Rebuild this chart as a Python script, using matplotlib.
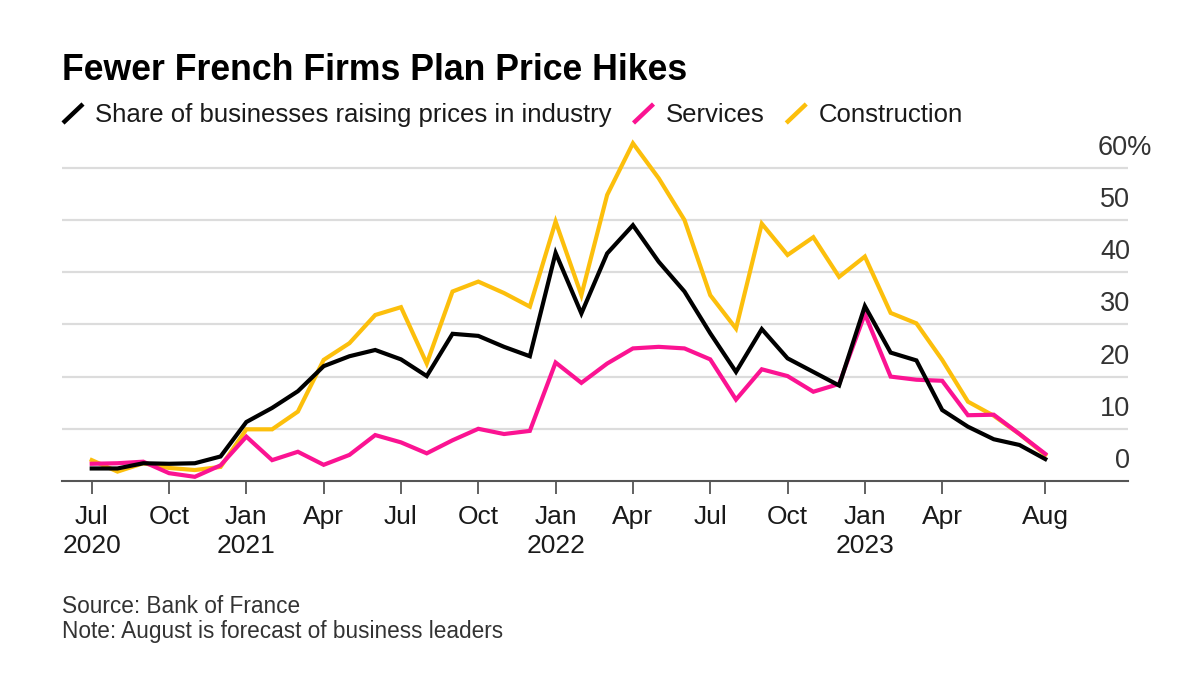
import matplotlib
matplotlib.use("Agg")
import matplotlib.pyplot as plt
from matplotlib import transforms
from matplotlib.lines import Line2D

plt.rcParams['font.family'] = ['Liberation Sans', 'DejaVu Sans']

# ---- data (monthly, Jul 2020 .. Aug 2023) ----
industry = [2.4, 2.4, 3.4, 3.3, 3.4, 4.7, 11.3, 14.0, 17.2, 22.0, 23.9, 25.1, 23.3, 20.1,
            28.2, 27.8, 25.7, 23.9, 43.7, 32.1, 43.6, 49.0, 42.0, 36.3, 28.3, 20.9, 29.1,
            23.5, 20.9, 18.3, 33.5, 24.6, 23.1, 13.6, 10.4, 8.0, 6.9, 4.2]
services = [3.3, 3.4, 3.7, 1.5, 0.8, 3.0, 8.5, 4.0, 5.6, 3.1, 5.0, 8.8, 7.4, 5.3,
            7.8, 10.0, 9.0, 9.6, 22.7, 18.8, 22.5, 25.4, 25.7, 25.4, 23.3, 15.6, 21.4,
            20.1, 17.1, 18.6, 32.0, 20.0, 19.4, 19.2, 12.6, 12.7, 9.0, 5.2]
construction = [4.0, 1.8, 3.4, 2.5, 2.1, 2.7, 9.9, 9.9, 13.3, 23.2, 26.4, 31.8, 33.3, 22.5,
                36.3, 38.2, 36.0, 33.4, 49.7, 35.6, 54.8, 64.7, 58.0, 50.0, 35.6, 29.2, 49.3,
                43.3, 46.7, 39.1, 43.0, 32.2, 30.2, 23.2, 15.2, 12.5, 9.0, 5.0]
months = list(range(len(industry)))

tick_pos = [0, 3, 6, 9, 12, 15, 18, 21, 24, 27, 30, 33, 37]
tick_labels = ["Jul\n2020", "Oct", "Jan\n2021", "Apr", "Jul", "Oct", "Jan\n2022",
               "Apr", "Jul", "Oct", "Jan\n2023", "Apr", "Aug"]
y_ticks = [0, 10, 20, 30, 40, 50, 60]
y_labels = ["0", "10", "20", "30", "40", "50", "60%"]

series_names = ["Share of businesses raising prices in industry", "Services", "Construction"]

BLACK = "#000000"
PINK = "#fb1392"
YELLOW = "#fcbf0c"
TEXT = "#1a1a1a"

W, H = 1200, 674
fig = plt.figure(figsize=(W / 100, H / 100), dpi=100)
fig.patch.set_facecolor("white")

def fx(px):
    return px / W

def fy(py):
    return 1 - py / H

ax_l, ax_r, ax_b, ax_t = 62, 1128, 481, 140
ax = fig.add_axes([fx(ax_l), fy(ax_b), (ax_r - ax_l) / W, (ax_b - ax_t) / H])
ax.set_xlim(-1.153, 40.21)
ax.set_ylim(0, (ax_b - ax_t) / 5.22)

for s in ["top", "right", "left"]:
    ax.spines[s].set_visible(False)
ax.spines["bottom"].set_color("#555555")
ax.spines["bottom"].set_linewidth(1.5)

for v in y_ticks[1:]:
    ax.axhline(v, color="#dcdcdc", lw=1.6, zorder=0)

ax.plot(months, construction, color=YELLOW, lw=3.0, zorder=2, clip_on=False, solid_joinstyle="miter")
ax.plot(months, services, color=PINK, lw=3.0, zorder=3, clip_on=False, solid_joinstyle="miter")
ax.plot(months, industry, color=BLACK, lw=3.0, zorder=4, clip_on=False, solid_joinstyle="miter")

ax.set_yticks([])
ax.set_xticks(tick_pos)
ax.set_xticklabels(tick_labels, fontsize=19, color=TEXT)
ax.tick_params(axis="x", direction="out", length=9, width=1.3, color="#555555", pad=8)
for lab in ax.get_xticklabels():
    lab.set_linespacing(1.28)
    lab.set_verticalalignment("top")

# y labels above gridlines at right
lab_tr = transforms.offset_copy(ax.get_yaxis_transform(), fig=fig, x=0, y=13, units="dots")
for v, t in zip(y_ticks, y_labels):
    if t.endswith("%"):
        ax.text((1098 - ax_l) / (ax_r - ax_l), v, t, transform=lab_tr, ha="left", va="baseline",
                fontsize=19.5, color="#333333")
    else:
        ax.text((1130 - ax_l) / (ax_r - ax_l), v, t, transform=lab_tr, ha="right", va="baseline",
                fontsize=19.5, color="#333333")

# title
fig.text(fx(62), fy(80), "Fewer French Firms Plan Price Hikes", fontsize=25.7, fontweight="bold",
         color="#000000", ha="left", va="baseline")

# legend
fig.canvas.draw()
renderer = fig.canvas.get_renderer()
x = 62
base = 122
for name, col in zip(series_names, [BLACK, PINK, YELLOW]):
    fig.add_artist(Line2D([fx(x + 1), fx(x + 21)], [fy(base + 1), fy(base - 18)], color=col, lw=3.2,
                          transform=fig.transFigure, solid_capstyle="butt"))
    t = fig.text(fx(x + 33), fy(base), name, fontsize=18.5, color=TEXT, ha="left", va="baseline")
    bb = t.get_window_extent(renderer)
    x = bb.x1 + 21

# footer
fig.text(fx(62), fy(613), "Source: Bank of France", fontsize=16.3, color="#333333", ha="left", va="baseline")
fig.text(fx(62), fy(638), "Note: August is forecast of business leaders", fontsize=16.3, color="#333333",
         ha="left", va="baseline")

fig.savefig("out.png", dpi=100)
